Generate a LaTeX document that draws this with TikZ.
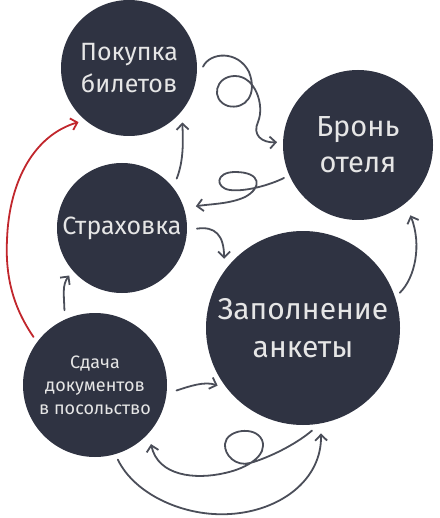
\documentclass[tikz,border=0pt]{standalone}
\usepackage{fontspec}
\setmainfont{Fira Sans}
\usetikzlibrary{arrows.meta}
\definecolor{stagenavy}{HTML}{2F3342}
\definecolor{pengrey}{HTML}{4B4E59}
\definecolor{penred}{HTML}{C1272D}
\definecolor{labelgrey}{HTML}{E6E6E6}
\begin{document}
\begin{tikzpicture}[x=1pt,y=-1pt,>={Straight Barb[length=6pt,width=12pt]},
  stage/.style={circle,fill=stagenavy,text=labelgrey,align=center,inner sep=0pt,outer sep=6pt},
  pen/.style={->,draw=pengrey,line width=1.8pt,line cap=round},
  redpen/.style={pen,draw=penred,line width=1.8pt}]
\useasboundingbox (0,0) rectangle (439,518);
\node[stage,minimum size=136pt,font=\fontsize{25}{32}\selectfont] (buy) at (129,68) {Покупка\\билетов};
\node[stage,minimum size=150pt,font=\fontsize{29}{36}\selectfont] (hotel) at (358,145) {Бронь\\отеля};
\node[stage,minimum size=130pt,font=\fontsize{25}{28}\selectfont] (ins) at (122,228) {Страховка};
\node[stage,minimum size=194pt,font=\fontsize{30}{38}\selectfont] (form) at (303,328) {Заполнение\\анкеты};
\node[stage,minimum size=144pt,font=\fontsize{18}{23}\selectfont] (docs) at (95,385) {Сдача\\документов\\в посольство};

\draw[pen] (buy.1) .. controls (210,52) and (238,50) .. (249,72)
  .. controls (258,95) and (245,110) .. (228,106)
  .. controls (210,100) and (215,76) .. (235,76)
  .. controls (255,76) and (265,105) .. (258,122)
  .. controls (252,135) and (262,143) .. (hotel.178);
\draw[pen,shorten >=6pt] (hotel.204) .. controls (270,185) and (245,192) .. (230,190)
  .. controls (215,188) and (215,172) .. (235,172)
  .. controls (262,172) and (262,188) .. (245,197)
  .. controls (230,204) and (210,204) .. (ins.17);
\draw[pen,shorten <=4pt,shorten >=3pt] (ins.-1) .. controls (215,226) and (224,235) .. (form.140);
\draw[pen,shorten <=3pt,shorten >=3pt] (ins.41) .. controls (184,160) and (183,140) .. (buy.-44);
\draw[pen,shorten <=3pt] (docs.113) .. controls (64,295) and (62,285) .. (ins.222);
\draw[redpen] (docs.142) .. controls (15,310) and (5,280) .. (7,240)
  .. controls (9,180) and (35,135) .. (buy.227);
\draw[pen,shorten <=4pt] (docs.-5) .. controls (190,386) and (205,381) .. (form.214);
\draw[pen,shorten >=7pt] (form.20) .. controls (415,278) and (422,245) .. (hotel.-52);
\draw[pen,shorten >=4pt] (form.-85) .. controls (295,445) and (268,458) .. (250,463)
  .. controls (236,467) and (224,455) .. (225,444)
  .. controls (226,430) and (255,425) .. (262,440)
  .. controls (268,455) and (248,468) .. (225,473)
  .. controls (195,480) and (158,476) .. (docs.-45);
\draw[pen,shorten >=4pt] (docs.-73) .. controls (135,495) and (185,517) .. (230,514)
  .. controls (280,511) and (322,480) .. (form.-80);
\end{tikzpicture}
\end{document}
